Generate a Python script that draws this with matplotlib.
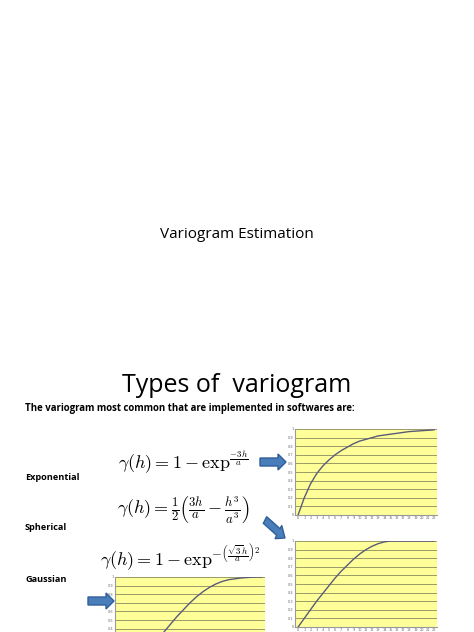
import matplotlib
matplotlib.use("Agg")
import matplotlib.pyplot as plt
from matplotlib.patches import FancyArrow

plt.rcParams["mathtext.fontset"] = "cm"

W, H = 474, 632

h = list(range(23))
exp_vals = [0, 0.2, 0.36, 0.48, 0.57, 0.64, 0.70, 0.75, 0.79, 0.83, 0.86, 0.88, 0.90,
            0.92, 0.93, 0.94, 0.95, 0.96, 0.97, 0.975, 0.98, 0.985, 0.99]
sph_vals = [0, 0.1, 0.2, 0.3, 0.39, 0.48, 0.57, 0.65, 0.72, 0.79, 0.85, 0.90, 0.94,
            0.97, 0.99, 1, 1, 1, 1, 1, 1, 1, 1]
gau_vals = [0, 0.01, 0.03, 0.07, 0.13, 0.2, 0.28, 0.36, 0.45, 0.54, 0.62, 0.7, 0.77,
            0.83, 0.88, 0.92, 0.95, 0.97, 0.98, 0.99, 0.995, 1, 1]
yticks = [i / 10 for i in range(11)]
ytick_labels = ["0", "0.1", "0.2", "0.3", "0.4", "0.5", "0.6", "0.7", "0.8", "0.9", "1"]

fig = plt.figure(figsize=(W / 100, H / 100), dpi=100)


def px(x0, y0, x1, y1):
    # pixel box -> figure fraction rect
    return [x0 / W, 1 - y1 / H, (x1 - x0) / W, (y1 - y0) / H]


def chart(rect, vals, xlabels=True):
    ax = fig.add_axes(px(*rect))
    ax.set_facecolor("#ffff99")
    ax.plot(h, vals, color="#5a5a7a", lw=1)
    ax.set_xlim(-0.5, 22.5)
    ax.set_ylim(0, 1)
    ax.set_yticks(yticks)
    ax.set_yticklabels(ytick_labels)
    ax.set_xticks(h)
    if not xlabels:
        ax.set_xticklabels([])
    ax.tick_params(labelsize=2.5, length=0, colors="#666666", pad=1)
    ax.grid(axis="y", color="#8a8a60", lw=0.6)
    ax.set_axisbelow(True)
    for s in ["top", "right"]:
        ax.spines[s].set_visible(False)
    ax.spines["left"].set_color("#999999")
    ax.spines["bottom"].set_color("#999999")
    return ax


chart((295, 429, 437, 515), exp_vals)
chart((295, 541, 437, 627), sph_vals)
chart((115, 577, 265, 663), gau_vals, xlabels=False)

fig.text(237 / W, 1 - 235 / H, "Variogram Estimation", ha="center", va="center",
         fontsize=11, family="Open Sans")
fig.text(237 / W, 1 - 385 / H, "Types of  variogram", ha="center", va="center",
         fontsize=18, family="Open Sans")
fig.text(25 / W, 1 - 408 / H, "The variogram most common that are implemented in softwares are:",
         ha="left", va="center", fontsize=6.9, family="Open Sans", weight="bold")

for label, y in [("Exponential", 477), ("Spherical", 528), ("Gaussian", 579)]:
    fig.text(25 / W, 1 - y / H, label, ha="left", va="center", fontsize=6.6,
             family="Open Sans", weight="bold")

fig.text(183 / W, 1 - 463 / H, r"$\gamma(h) = 1 - \exp^{\frac{-3h}{a}}$",
         ha="center", va="center", fontsize=13)
fig.text(183 / W, 1 - 510 / H,
         r"$\gamma(h) = \frac{1}{2}\left(\frac{3h}{a} - \frac{h^3}{a^3}\right)$",
         ha="center", va="center", fontsize=13)
fig.text(180 / W, 1 - 557 / H,
         r"$\gamma(h) = 1 - \exp^{-\left(\frac{\sqrt{3}h}{a}\right)^2}$",
         ha="center", va="center", fontsize=13)

blue = "#4a7ebb"
arrows = [(260, 462, 26, 0), (265, 520, 20, 18), (88, 601, 26, 0)]
for x, y, dx, dy in arrows:
    fig.patches.append(FancyArrow(x / W, 1 - y / H, dx / W, -dy / H, width=8 / H,
                                  head_width=16 / H, head_length=8 / W,
                                  length_includes_head=True, color=blue,
                                  ec="#2f5f9a", transform=fig.transFigure))

fig.savefig("out.png", dpi=100)
